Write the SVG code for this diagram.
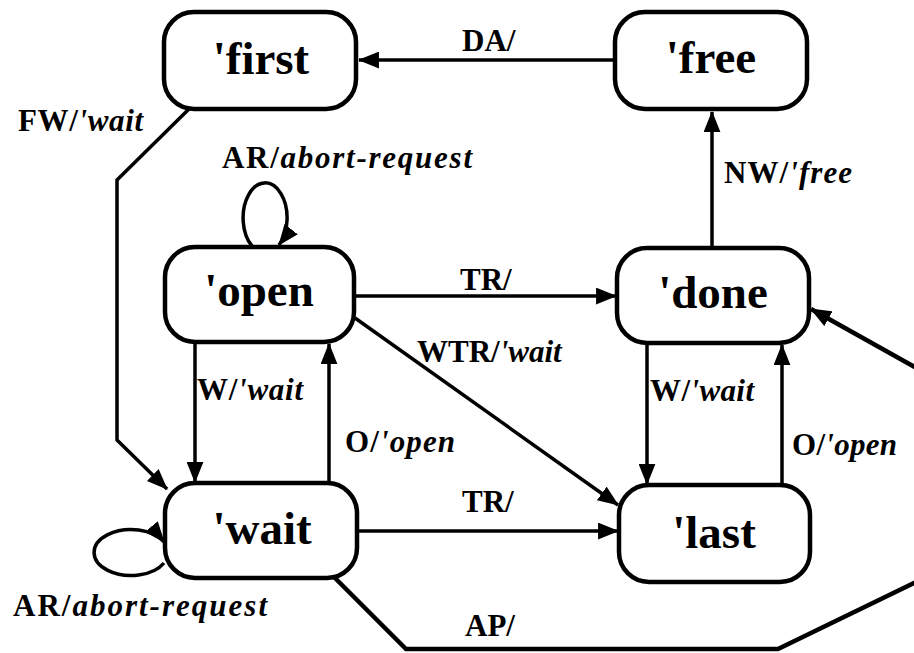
<svg xmlns="http://www.w3.org/2000/svg" width="914" height="653" viewBox="0 0 914 653">
<style>
.node rect{fill:#fff;stroke:#000;stroke-width:4.5}
.node text{font-family:"Liberation Serif","Times New Roman",serif;font-weight:bold;font-size:47px;text-anchor:middle;fill:#000}
.edge{fill:none;stroke:#000;stroke-width:3.5;stroke-linejoin:miter}
.thick{stroke-width:4.5}
.lbl{font-family:"Liberation Serif","Times New Roman",serif;font-weight:bold;font-size:31px;fill:#000}
.it{font-style:italic}
</style>
<defs>
<marker id="ah" viewBox="0 0 20 16" refX="19" refY="8" markerWidth="21" markerHeight="17" markerUnits="userSpaceOnUse" orient="auto">
<path d="M0,0 L20,8 L0,16 z" fill="#000"/>
</marker>
</defs>
<rect width="914" height="653" fill="#fff"/>
<g id="connectors">
<path class="edge" d="M615 60 L359 60" marker-end="url(#ah)"/>
<path class="edge" d="M190 108 L117 180 L117 440 L167 489" marker-end="url(#ah)"/>
<path class="edge" d="M252 246 A22 35 0 1 1 279 245" marker-end="url(#ah)"/>
<path class="edge" d="M354 296 L616 296" marker-end="url(#ah)"/>
<path class="edge" d="M355 318 L618 505" marker-end="url(#ah)"/>
<path class="edge" d="M195 343 L195 482" marker-end="url(#ah)"/>
<path class="edge" d="M329 483 L329 344" marker-end="url(#ah)"/>
<path class="edge" d="M357 531 L618 531" marker-end="url(#ah)"/>
<path class="edge" d="M647 344 L647 484" marker-end="url(#ah)"/>
<path class="edge" d="M782 485 L782 345" marker-end="url(#ah)"/>
<path class="edge" d="M712 248 L712 112" marker-end="url(#ah)"/>
<path class="edge" d="M164 563 A37 23 0 1 1 164 542" marker-end="url(#ah)"/>
<path class="edge thick" d="M334 577 L406 649 L778 649 L920 580"/>
<path class="edge thick" d="M920 370 L811 309" marker-end="url(#ah)"/>
</g>
<g id="labels">
<text class="lbl" x="462" y="51">DA/</text>
<text class="lbl" x="18" y="131" textLength="125" lengthAdjust="spacing">FW/<tspan class="it">'wait</tspan></text>
<text class="lbl" x="222" y="168" textLength="250" lengthAdjust="spacing">AR/<tspan class="it">abort-request</tspan></text>
<text class="lbl" x="724" y="183" textLength="128" lengthAdjust="spacing">NW/<tspan class="it">'free</tspan></text>
<text class="lbl" x="460" y="290">TR/</text>
<text class="lbl" x="417" y="362">WTR/<tspan class="it">'wait</tspan></text>
<text class="lbl" x="197" y="400" textLength="106" lengthAdjust="spacing">W/<tspan class="it">'wait</tspan></text>
<text class="lbl" x="345" y="452" textLength="110" lengthAdjust="spacing">O/<tspan class="it">'open</tspan></text>
<text class="lbl" x="650" y="401" textLength="104" lengthAdjust="spacing">W/<tspan class="it">'wait</tspan></text>
<text class="lbl" x="792" y="455" textLength="105" lengthAdjust="spacing">O/<tspan class="it">'open</tspan></text>
<text class="lbl" x="462" y="512">TR/</text>
<text class="lbl" x="13" y="616" textLength="254" lengthAdjust="spacing">AR/<tspan class="it">abort-request</tspan></text>
<text class="lbl" x="465" y="636">AP/</text>
</g>
<g id="node-first" class="node"><rect x="164" y="12" width="192" height="97" rx="30"/><text x="261" y="74">'first</text></g>
<g id="node-free" class="node"><rect x="615" y="12" width="192" height="97" rx="30"/><text x="711" y="73">'free</text></g>
<g id="node-open" class="node"><rect x="165" y="247" width="189" height="95" rx="30"/><text x="259" y="306">'open</text></g>
<g id="node-done" class="node"><rect x="617" y="248" width="192" height="95" rx="30"/><text x="713" y="308">'done</text></g>
<g id="node-wait" class="node"><rect x="165" y="483" width="192" height="95" rx="30"/><text x="262" y="544">'wait</text></g>
<g id="node-last" class="node"><rect x="619" y="485" width="191" height="97" rx="30"/><text x="714" y="548">'last</text></g>
</svg>
